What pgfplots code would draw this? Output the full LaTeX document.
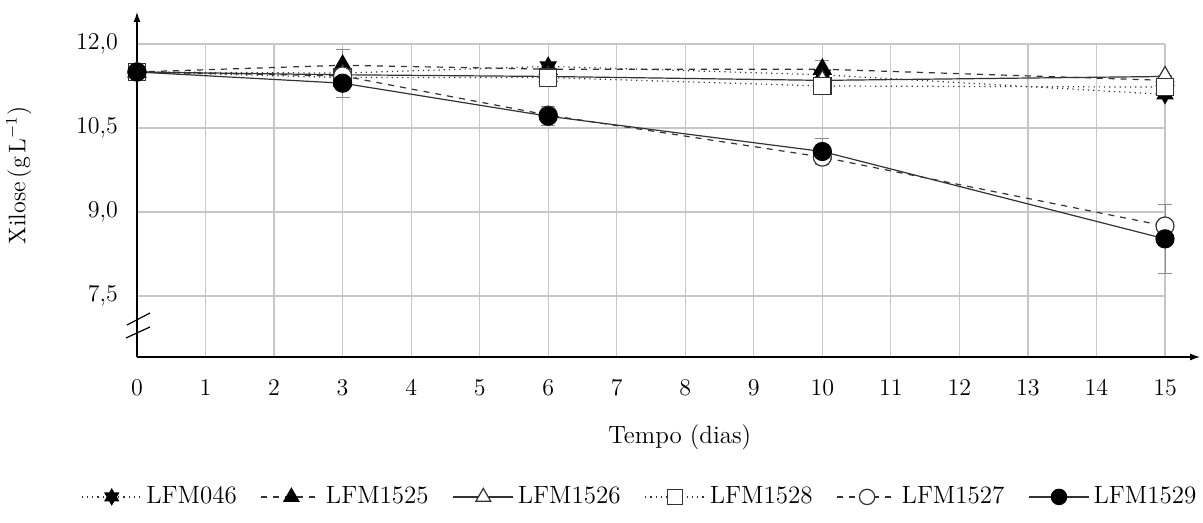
\documentclass[border=0pt]{standalone}
\usepackage{pgfplots}
\pgfplotsset{compat=1.18}
\usetikzlibrary{arrows.meta}
\pgfdeclareplotmark{hexstar}{%
  \pgfpathmoveto{\pgfqpointpolar{90}{\pgfplotmarksize}}%
  \pgfpathlineto{\pgfqpointpolar{210}{\pgfplotmarksize}}%
  \pgfpathlineto{\pgfqpointpolar{330}{\pgfplotmarksize}}%
  \pgfpathclose
  \pgfpathmoveto{\pgfqpointpolar{270}{\pgfplotmarksize}}%
  \pgfpathlineto{\pgfqpointpolar{30}{\pgfplotmarksize}}%
  \pgfpathlineto{\pgfqpointpolar{150}{\pgfplotmarksize}}%
  \pgfpathclose
  \pgfusepathqfillstroke}
\begin{document}
\begin{tikzpicture}
\path[use as bounding box] (-68.5pt,-83pt) rectangle (533pt,178.5pt);
\begin{axis}[
  scale only axis, width=514pt, height=156.5pt,
  xmin=0, xmax=15, ymin=6.41, ymax=12,
  axis lines=left,
  x axis line style={-{Latex[length=5pt,width=3.5pt]}, shorten >=-17.5pt, line width=0.6pt},
  y axis line style={-{Latex[length=5pt,width=3.5pt]}, shorten >=-16pt, line width=0.6pt},
  xtick={0,...,15}, ytick={7.5,9,10.5,12},
  major tick length=0pt,
  grid=major, major grid style={black!22, line width=0.6pt},
  yticklabel={\pgfmathprintnumber[fixed, fixed zerofill, precision=1, use comma]{\tick}},
  tick label style={font=\fontsize{12.5}{14}\selectfont},
  xticklabel style={yshift=-8pt},
  yticklabel style={xshift=-6pt},
  xlabel={Tempo (dias)}, ylabel={Xilose\,(g\,L$^{-1}$)},
  every axis x label/.style={at={(axis description cs:0.528,-0.256)}, anchor=center, font=\fontsize{12.5}{14}\selectfont},
  every axis y label/.style={at={(axis description cs:-0.115,0.58)}, rotate=90, anchor=center, font=\fontsize{12}{14}\selectfont},
  legend columns=6,
  legend style={draw=none, fill=none, at={(axis description cs:0.49,-0.447)}, anchor=center,
    font=\fontsize{12.5}{14}\selectfont, /tikz/every even column/.append style={column sep=10pt},
    legend image code/.code={\draw[mark repeat=2,mark phase=2,#1, every mark/.append style={scale=0.85}] plot coordinates {(0pt,0pt) (15pt,0pt) (30pt,0pt)};}},
  every axis plot/.append style={line width=0.6pt, black!80},
  error bars/y dir=both, error bars/y explicit,
  error bars/error bar style={black!45, line width=0.5pt, solid},
  error bars/error mark options={rotate=90, mark size=3.5pt, black!45, line width=0.5pt},
  clip=false,
]
\addplot[dotted, black!80, mark=hexstar, mark size=4.5pt, mark options={solid, fill=black, draw=black}] table[y error=e] {
x y e
0 11.50 0.05
3 11.48 0.00
6 11.60 0.00
10 11.45 0.00
15 11.10 0.00
};
\addlegendentry{LFM046}
\addplot[dashed, black!80, mark=triangle*, mark size=5pt, mark options={solid, fill=black, draw=black}] table[y error=e] {
x y e
0 11.50 0.05
3 11.62 0.28
6 11.55 0.00
10 11.55 0.15
15 11.35 0.00
};
\addlegendentry{LFM1525}
\addplot[solid, black!80, mark=triangle*, mark size=5pt, mark options={solid, fill=white, draw=black!80}] table[y error=e] {
x y e
0 11.50 0.05
3 11.45 0.00
6 11.42 0.00
10 11.35 0.00
15 11.42 0.00
};
\addlegendentry{LFM1526}
\addplot[dotted, black!80, mark=square*, mark size=4.3pt, mark options={solid, fill=white, draw=black!80}] table[y error=e] {
x y e
0 11.50 0.05
3 11.40 0.00
6 11.40 0.00
10 11.25 0.00
15 11.23 0.20
};
\addlegendentry{LFM1528}
\addplot[dashed, black!80, mark=*, mark size=4.5pt, mark options={solid, fill=white, draw=black!80}] table[y error=e] {
x y e
0 11.50 0.05
3 11.43 0.00
6 10.73 0.00
10 9.98 0.00
15 8.75 0.00
};
\addlegendentry{LFM1527}
\addplot[solid, black!80, mark=*, mark size=4.5pt, mark options={solid, fill=black, draw=black}] table[y error=e] {
x y e
0 11.50 0.05
3 11.30 0.25
6 10.71 0.17
10 10.08 0.24
15 8.52 0.61
};
\addlegendentry{LFM1529}
\draw[black, line width=0.6pt] ([shift={(-5.5pt,9.5pt)}]axis cs:0,6.41) -- ([shift={(6.5pt,15pt)}]axis cs:0,6.41);
\draw[black, line width=0.6pt] ([shift={(-5pt,16pt)}]axis cs:0,6.41) -- ([shift={(6.5pt,22pt)}]axis cs:0,6.41);
\end{axis}
\end{tikzpicture}
\end{document}
